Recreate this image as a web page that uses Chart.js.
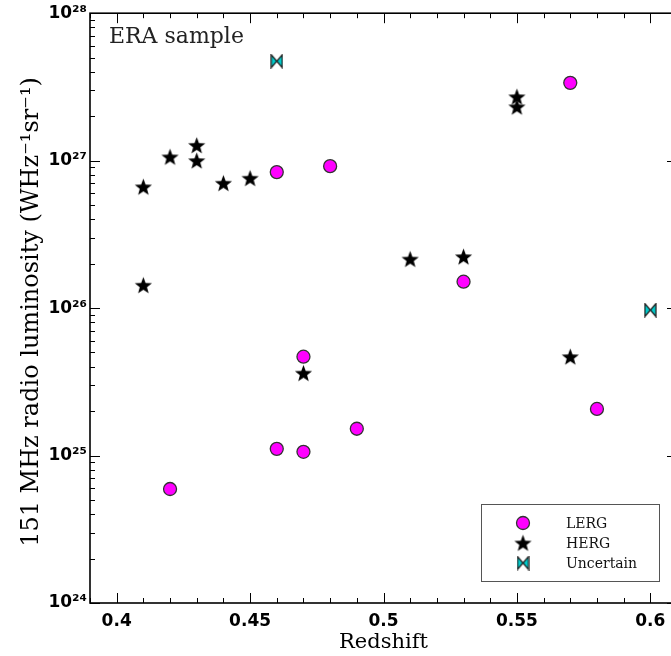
<!DOCTYPE html>
<html>
<head>
<meta charset="utf-8">
<script src="https://cdn.jsdelivr.net/npm/chart.js@4.4.1/dist/chart.umd.min.js"></script>
<style>
  html, body { margin: 0; padding: 0; background: #fff; overflow: hidden; }
  #wrap { width: 700px; height: 656px; }
</style>
</head>
<body>
<div id="wrap"><canvas id="era" width="700" height="656"></canvas></div>
<script>
// values (redshift, 151 MHz luminosity in W/Hz/sr)
const lergZ = [0.57, 0.46, 0.48, 0.53, 0.47, 0.58, 0.49, 0.46, 0.47, 0.42];
const lergL = [3.37e27, 8.36e26, 9.18e26, 1.51e26, 4.68e25, 2.07e25, 1.52e25, 1.11e25, 1.06e25, 5.93e24];

const hergZ = [0.55, 0.55, 0.43, 0.42, 0.43, 0.45, 0.44, 0.41, 0.51, 0.53, 0.41, 0.47, 0.57];
const hergL = [2.71e27, 2.32e27, 1.27e27, 1.06e27, 1.0e27, 7.6e26, 7.03e26, 6.64e26, 2.15e26, 2.23e26, 1.43e26, 3.62e25, 4.68e25];

const uncZ = [0.46, 0.60];
const uncL = [4.73e27, 9.7e25];

const xTicks = [0.4, 0.45, 0.5, 0.55, 0.6];
const yTicks = [1e24, 1e25, 1e26, 1e27, 1e28];

const seriesNames = ['LERG', 'HERG', 'Uncertain'];

const SUP = {'0':'\u2070','1':'\u00b9','2':'\u00b2','3':'\u00b3','4':'\u2074','5':'\u2075','6':'\u2076','7':'\u2077','8':'\u2078','9':'\u2079','-':'\u207b'};
const sup = s => String(s).split('').map(c => SUP[c]).join('');

const yTitle = '151 MHz radio luminosity (WHz' + sup('-1') + 'sr' + sup('-1') + ')';

// marker images
function makeStar(size) {
  const c = document.createElement('canvas');
  c.width = c.height = size;
  const g = c.getContext('2d');
  const R = size / 2 - 0.5, r = R * 0.42, cx = size / 2, cy = size / 2 + 0.8;
  g.beginPath();
  for (let i = 0; i < 10; i++) {
    const ang = -Math.PI / 2 + i * Math.PI / 5;
    const rad = i % 2 ? r : R;
    g.lineTo(cx + rad * Math.cos(ang), cy + rad * Math.sin(ang));
  }
  g.closePath();
  g.fillStyle = '#000';
  g.fill();
  return c;
}
function makeBowtie(w, h) {
  const c = document.createElement('canvas');
  c.width = w; c.height = h;
  const g = c.getContext('2d');
  g.beginPath();
  g.moveTo(1, 1); g.lineTo(1, h - 1); g.lineTo(w / 2, h / 2); g.closePath();
  g.moveTo(w - 1, 1); g.lineTo(w - 1, h - 1); g.lineTo(w / 2, h / 2); g.closePath();
  g.fillStyle = '#00cccc';
  g.fill();
  g.lineWidth = 1.2;
  g.strokeStyle = '#1a1a1a';
  g.stroke();
  return c;
}
const starImg = makeStar(19);
const bowImg = makeBowtie(13, 15);

const pts = (xs, ys) => xs.map((v, i) => ({x: v, y: ys[i]}));

// frame with inward ticks on all four sides, like the original
const framePlugin = {
  id: 'frame',
  afterDraw(chart) {
    const {ctx, chartArea: a, scales: {x, y}} = chart;
    ctx.save();
    ctx.strokeStyle = '#000';
    ctx.lineWidth = 1;
    const big = 10, small = 5;
    const xs = [];
    for (let k = 39; k <= 61; k++) xs.push([k / 100, k % 5 === 0 ? big : small]);
    ctx.beginPath();
    xs.forEach(([v, len]) => {
      const px = Math.round(x.getPixelForValue(v)) + 0.5;
      ctx.moveTo(px, a.bottom); ctx.lineTo(px, a.bottom - len);
      ctx.moveTo(px, a.top); ctx.lineTo(px, a.top + len);
    });
    for (let e = 24; e < 28; e++) {
      for (let m = 1; m <= 9; m++) {
        const len = m === 1 ? big : small;
        const py = Math.round(y.getPixelForValue(m * Math.pow(10, e))) + 0.5;
        ctx.moveTo(a.left, py); ctx.lineTo(a.left + len, py);
        ctx.moveTo(a.right, py); ctx.lineTo(a.right - len, py);
      }
    }
    ctx.stroke();
    ctx.lineWidth = 1.6;
    ctx.strokeRect(a.left, a.top, a.right - a.left, a.bottom - a.top);

    // y axis title, drawn by hand so it can sit where the original has it
    ctx.save();
    ctx.translate(32, 312);
    ctx.rotate(-Math.PI / 2);
    ctx.fillStyle = '#000';
    ctx.font = '24px "DejaVu Serif"';
    ctx.textAlign = 'center';
    ctx.textBaseline = 'middle';
    ctx.fillText(yTitle, 0, 0);
    ctx.restore();

    // annotation
    ctx.fillStyle = '#222';
    ctx.font = '22px "DejaVu Serif"';
    ctx.textBaseline = 'alphabetic';
    ctx.fillText('ERA sample', a.left + 19, a.top + 30);

    // legend box
    const bx = a.left + 391, by = a.bottom - 99, bw = 178, bh = 77;
    ctx.fillStyle = '#fff';
    ctx.fillRect(bx, by, bw, bh);
    ctx.lineWidth = 1;
    ctx.strokeStyle = '#555';
    ctx.strokeRect(bx + 0.5, by + 0.5, bw, bh);
    ctx.font = '14px "DejaVu Serif"';
    ctx.textBaseline = 'middle';
    chart.data.datasets.forEach((ds, i) => {
      const cy = by + 19 + i * 20, cx = bx + 42;
      if (ds.pointStyle === 'circle') {
        ctx.beginPath();
        ctx.arc(cx, cy, 6.5, 0, Math.PI * 2);
        ctx.fillStyle = ds.backgroundColor;
        ctx.fill();
        ctx.lineWidth = ds.borderWidth;
        ctx.strokeStyle = ds.borderColor;
        ctx.stroke();
      } else {
        const im = ds.pointStyle;
        ctx.drawImage(im, cx - im.width / 2, cy - im.height / 2);
      }
      ctx.fillStyle = '#111';
      ctx.fillText(ds.label, bx + 85, cy + 1);
    });
    ctx.restore();
  }
};

new Chart(document.getElementById('era'), {
  type: 'scatter',
  data: {
    datasets: [
      {
        label: seriesNames[0],
        data: pts(lergZ, lergL),
        pointStyle: 'circle',
        pointRadius: 6.5,
        backgroundColor: '#ff00ff',
        borderColor: '#333',
        borderWidth: 1.3,
      },
      {
        label: seriesNames[1],
        data: pts(hergZ, hergL),
        pointStyle: starImg,
        pointRadius: 9,
      },
      {
        label: seriesNames[2],
        data: pts(uncZ, uncL),
        pointStyle: bowImg,
        pointRadius: 7,
      },
    ],
  },
  options: {
    responsive: false,
    animation: false,
    layout: { padding: { top: 13, right: 23, left: 0, bottom: 0 } },
    plugins: {
      legend: { display: false },
      tooltip: { enabled: false },
    },
    scales: {
      x: {
        type: 'linear',
        min: 0.39,
        max: 0.61,
        afterFit: s => { s.height = 53; },
        afterBuildTicks: s => { s.ticks = xTicks.map(v => ({value: v})); },
        grid: { display: false, drawTicks: false },
        border: { display: false },
        ticks: {
          color: '#000',
          padding: 8,
          maxRotation: 0,
          font: { family: '"DejaVu Sans"', size: 17, weight: 'bold' },
          callback: v => String(+v.toFixed(2)),
        },
        title: {
          display: true,
          text: 'Redshift',
          color: '#000',
          padding: { top: 0, bottom: 1 },
          font: { family: '"DejaVu Serif"', size: 21 },
        },
      },
      y: {
        type: 'logarithmic',
        min: 1e24,
        max: 1e28,
        afterFit: s => { s.width = 90; },
        afterBuildTicks: s => { s.ticks = yTicks.map(v => ({value: v})); },
        grid: { display: false, drawTicks: false },
        border: { display: false },
        ticks: {
          color: '#000',
          padding: 3,
          font: { family: '"DejaVu Sans"', size: 17, weight: 'bold' },
          callback: v => '10' + sup(Math.round(Math.log10(v))),
        },
      },
    },
  },
  plugins: [framePlugin],
});
</script>
</body>
</html>
